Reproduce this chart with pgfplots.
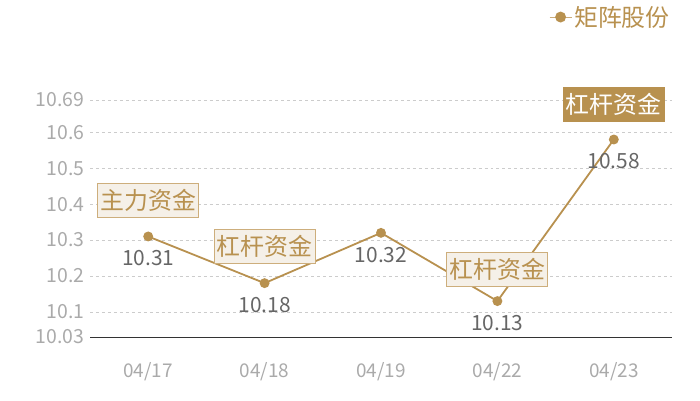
\documentclass[border=0pt]{standalone}
\usepackage{pgfplots}
\pgfplotsset{compat=1.18}
\usepackage{fontspec}
\setmainfont{Noto Sans CJK SC}
\definecolor{gold}{HTML}{B8914F}
\definecolor{goldedge}{HTML}{CDAE7C}
\definecolor{paper}{HTML}{F5F0E8}
\definecolor{ticktext}{HTML}{AAAAAA}
\definecolor{valtext}{HTML}{666666}
\definecolor{gridc}{HTML}{CCCCCC}

\begin{document}
\begin{tikzpicture}[x=1bp,y=1bp]
\useasboundingbox (0,0) rectangle (700,400);
\begin{axis}[
    at={(90bp,63bp)}, anchor=south west,
    scale only axis, width=582bp, height=237bp,
    xmin=-0.5, xmax=4.5, ymin=10.03, ymax=10.69,
    clip=false,
    xtick={0,1,2,3,4},
    xticklabels={04/17,04/18,04/19,04/22,04/23},
    ytick={10.03,10.1,10.2,10.3,10.4,10.5,10.6,10.69},
    yticklabels={10.03,10.1,10.2,10.3,10.4,10.5,10.6,10.69},
    axis x line*=bottom, axis y line*=left,
    x axis line style={draw=black!80, line width=0.8bp, -},
    y axis line style={draw=none},
    major tick length=0pt,
    ymajorgrids, grid style={dashed, gridc, line width=0.5bp},
    yticklabel style={text=ticktext, font=\fontsize{19.5}{21}\selectfont, xshift=-2bp},
    xticklabel style={text=ticktext, font=\fontsize{19}{21}\selectfont, yshift=-22bp},
    legend style={draw=none, fill=none, at={(1.005,1.35)}, anchor=east,
        font=\fontsize{24}{26}\selectfont, text=gold},
    legend image code/.code={\draw[gold!75, line width=1bp] (0bp,0bp) -- (22bp,0bp);
        \fill[gold] (11bp,0bp) circle (4.5bp);},
    nodes near coords,
    point meta=explicit symbolic,
    every node near coord/.append style={anchor=north, yshift=-10bp, text=valtext,
        font=\fontsize{21}{23}\selectfont},
]
\addplot[gold, line width=1.8bp, mark=*, mark size=4bp, mark options={fill=gold, draw=gold}]
    coordinates {
        (0, 10.31) [10.31]
        (1, 10.18) [10.18]
        (2, 10.32) [10.32]
        (3, 10.13) [10.13]
        (4, 10.58) [10.58]
    };
\addlegendentry{矩阵股份}
\tikzset{
    lbox/.style={draw=goldedge, fill=paper, text=gold, line width=1bp,
        minimum width=101bp, minimum height=34bp, inner sep=2bp,
        font=\fontsize{24}{26}\selectfont},
    dbox/.style={draw=gold, fill=gold, text=white, line width=1bp,
        minimum width=101bp, minimum height=34bp, inner sep=2bp,
        font=\fontsize{24}{26}\selectfont},
}
\node[lbox] at (axis cs:0,10.31) [yshift=36bp] {主力资金};
\node[lbox] at (axis cs:1,10.18) [yshift=37bp] {杠杆资金};
\node[lbox] at (axis cs:3,10.13) [yshift=32bp] {杠杆资金};
\node[dbox] at (axis cs:4,10.58) [yshift=35bp] {杠杆资金};
\end{axis}
\end{tikzpicture}
\end{document}
